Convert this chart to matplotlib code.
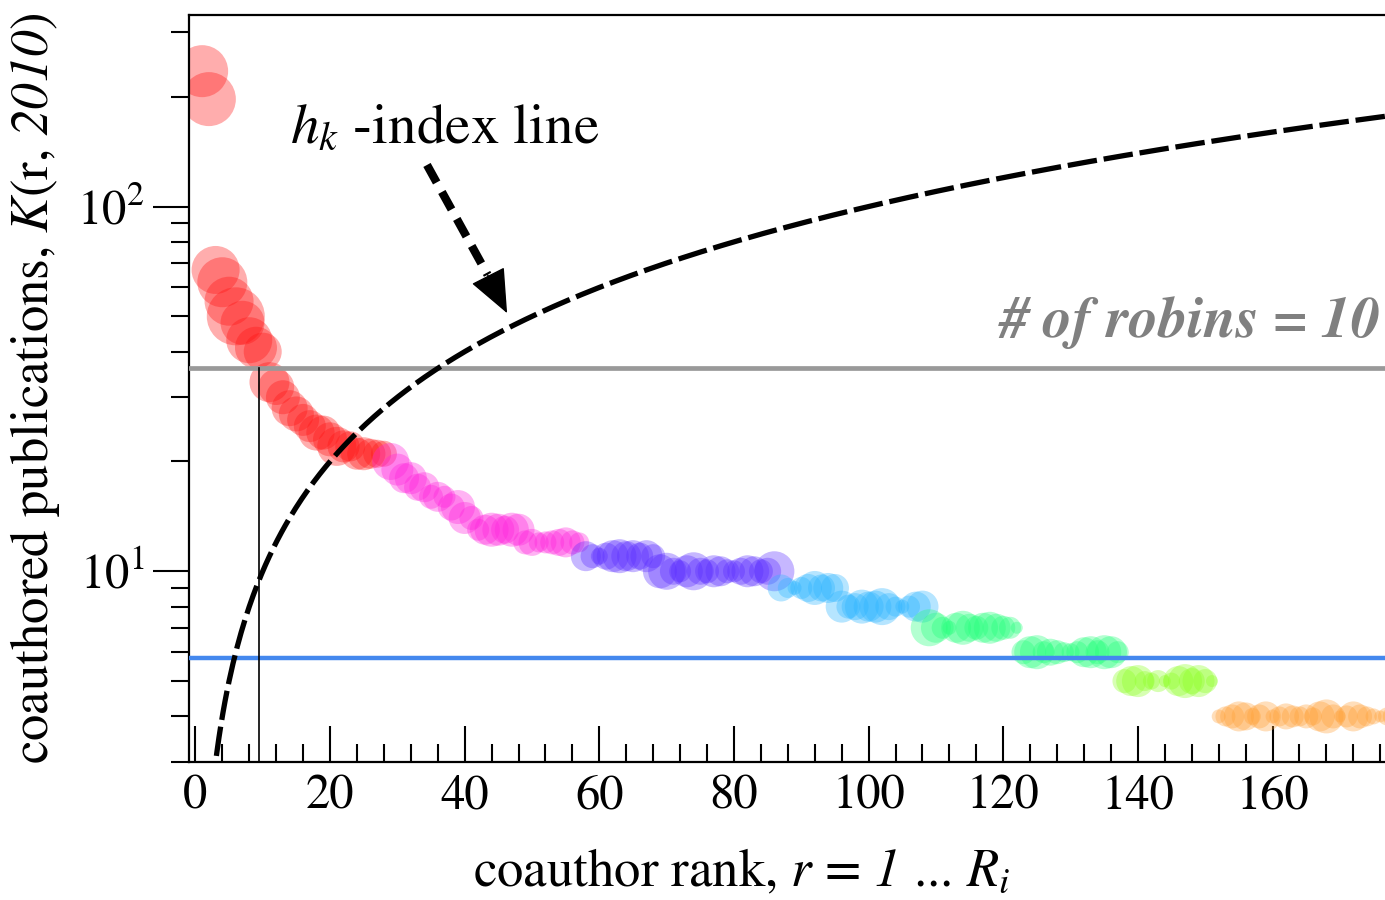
import matplotlib
matplotlib.use("Agg")
import matplotlib.pyplot as plt
from matplotlib.ticker import MultipleLocator, LogLocator, LogFormatterSciNotation, NullFormatter
import numpy as np

plt.rcParams['font.family'] = ['STIXGeneral', 'DejaVu Serif']
plt.rcParams['mathtext.fontset'] = 'custom'
plt.rcParams['mathtext.rm'] = 'STIXGeneral'
plt.rcParams['mathtext.it'] = 'STIXGeneral:italic'
plt.rcParams['mathtext.sf'] = 'STIXGeneral:italic'
plt.rcParams['mathtext.bf'] = 'STIXGeneral:bold'

# ---- data ----
K_red = [235, 197, 67, 62, 55, 50, 48, 43, 41, 40, 33, 32, 30, 28, 27, 26, 25, 24, 24, 23,
         22, 22, 22, 21, 21, 21, 21, 21]
K_magenta = [20, 19, 18, 18, 17, 17, 16, 16, 16, 15, 15, 14, 14, 13, 13, 13, 13, 13, 13, 13,
             12, 12, 12, 12, 12, 12, 12, 12, 12]
K_purple = [11, 11, 11, 11, 11, 11, 11, 11, 11, 11, 11,
            10, 10, 10, 10, 10, 10, 10, 10, 10, 10, 10, 10, 10, 10, 10, 10, 10, 10]
K_sky = [9, 9, 9, 9, 9, 9, 9, 9, 9,
         8, 8, 8, 8, 8, 8, 8, 8, 8, 8, 8, 8, 8]
K_green = [7, 7, 7, 7, 7, 7, 7, 7, 7, 7, 7, 7, 7, 7,
           6, 6, 6, 6, 6, 6, 6, 6, 6, 6, 6, 6, 6, 6, 6]
K_lime = [5, 5, 5, 5, 5, 5, 5, 5, 5, 5, 5, 5, 5, 5]
K_orange = [4, 4, 4, 4, 4, 4, 4, 4, 4, 4, 4, 4, 4, 4, 4, 4, 4, 4, 4, 4, 4, 4, 4, 4, 4, 4, 4]

W_red = [52, 54, 48, 50, 49, 58, 44, 46, 42, 38, 40, 36, 34, 36, 35, 32, 32, 36, 34, 34,
         39, 32, 30, 32, 33, 30, 28, 26]
W_magenta = [37, 32, 30, 32, 27, 30, 24, 30, 22, 27, 34, 32, 24, 22, 30, 34, 32, 28, 34, 32,
             24, 27, 20, 22, 24, 27, 30, 24, 20]
W_purple = [30, 24, 17, 27, 32, 34, 30, 32, 27, 32, 24, 34, 37, 27, 22, 32, 38, 27, 24, 32,
            30, 24, 22, 27, 32, 30, 24, 27, 40]
W_sky = [27, 20, 14, 22, 28, 34, 27, 30, 28, 32, 24, 27, 34, 30, 32, 37, 27, 20, 14, 22, 30, 32]
W_green = [37, 30, 22, 14, 30, 34, 28, 24, 30, 32, 28, 24, 22, 12,
           24, 32, 34, 22, 27, 24, 20, 18, 22, 30, 32, 24, 34, 32, 22]
W_lime = [24, 30, 32, 20, 17, 22, 12, 17, 30, 34, 26, 32, 24, 12]
W_orange = [14, 20, 24, 30, 28, 17, 24, 30, 14, 20, 26, 22, 20, 24, 18, 30, 34, 24, 12, 22,
            30, 24, 20, 16, 12, 18, 22]

groups = [
    (K_red, W_red, '#ff1010'),
    (K_magenta, W_magenta, '#ff22dd'),
    (K_purple, W_purple, '#5a2cff'),
    (K_sky, W_sky, '#2ab4ff'),
    (K_green, W_green, '#22ff7a'),
    (K_lime, W_lime, '#8cff22'),
    (K_orange, W_orange, '#ffa035'),
]

robin_level = 36
blue_level = 5.8
h_rank = 9.5

x_ticks = [0, 20, 40, 60, 80, 100, 120, 140, 160]

# arrow anchor points in data coordinates (rank, K)
arrow_start = (34.4, 130)
arrow_head_base = (43.4, 65)
arrow_tip = (46.3, 51)

# ---- figure ----
fig = plt.figure(figsize=(13.85, 9), dpi=100)
ax = fig.add_axes([189/1385, 1-762/900, 1-189/1385, (762-15)/900])
ax.set_yscale('log')
ax.set_xlim(-0.95, 176.7)
ax.set_ylim(3.0, 335)

rank = 1
for K, W, col in groups:
    r = np.arange(rank, rank + len(K))
    s = (np.array(W) * 0.72) ** 2
    ax.scatter(r, K, s=s, c=col, alpha=0.34, edgecolors='none', zorder=2)
    rank += len(K)

# reference lines
ax.axhline(robin_level, color='#999999', lw=3.4, zorder=3)
ax.axhline(blue_level, color='#4488ee', lw=3.2, zorder=3)
ax.plot([h_rank, h_rank], [3.0, robin_level], color='black', lw=1.2, zorder=3)

# h_k index line K = r
rr = np.linspace(0.5, 180, 600)
ax.plot(rr, rr, color='black', lw=3.8, ls=(0, (5.6, 1.3)), dash_capstyle='butt', zorder=4)

# dashed arrow: shaft + solid head
ax.plot([arrow_start[0], arrow_head_base[0]], [arrow_start[1], arrow_head_base[1]],
        color='black', lw=6, ls=(0, (2.4, 1.3)), dash_capstyle='butt', zorder=5)
ax.annotate('', xy=arrow_tip, xytext=arrow_head_base,
            arrowprops=dict(arrowstyle='-|>,head_length=0.95,head_width=0.4', color='black',
                            lw=1, shrinkA=0, shrinkB=0, mutation_scale=30),
            zorder=5)

fig.text(290/1385, 1-143/900, r'$h_k$ -index line', fontsize=41, ha='left', va='baseline')
fig.text(1381/1385, 1-337/900, '# of robins = 10', fontsize=42, color='#808080',
         fontweight='bold', fontstyle='italic', ha='right', va='baseline')

# axes styling
for side in ['left', 'bottom', 'top']:
    ax.spines[side].set_linewidth(1.6)
ax.spines['right'].set_visible(False)

ax.xaxis.set_minor_locator(MultipleLocator(4))
ax.set_xticks(x_ticks)
ax.tick_params(axis='x', which='major', direction='in', length=26, width=1.5, labelsize=35, pad=9,
               top=False)
ax.tick_params(axis='x', which='minor', direction='in', length=13, width=1.5, top=False)

ax.yaxis.set_major_locator(LogLocator(base=10, numticks=10))
ax.yaxis.set_minor_locator(LogLocator(base=10, subs=np.arange(2, 10), numticks=20))
ax.yaxis.set_major_formatter(LogFormatterSciNotation())
ax.yaxis.set_minor_formatter(NullFormatter())
ax.tick_params(axis='y', which='major', direction='out', length=26, width=1.5, labelsize=35, pad=6,
               right=False)
ax.tick_params(axis='y', which='minor', direction='out', length=13, width=1.5, right=False)

ax.set_xlabel(r'coauthor rank, $r$ = $\mathsf{1}$ ... $R_i$', fontsize=38, va='baseline')
ax.xaxis.set_label_coords((742-189)/1196, (762-886)/747)
ax.set_ylabel(r'coauthored publications, $K$(r, $\mathsf{2010}$)', fontsize=38)
ax.yaxis.set_label_coords((62-189)/1196, 0.5)

fig.savefig('out.png', dpi=100)
